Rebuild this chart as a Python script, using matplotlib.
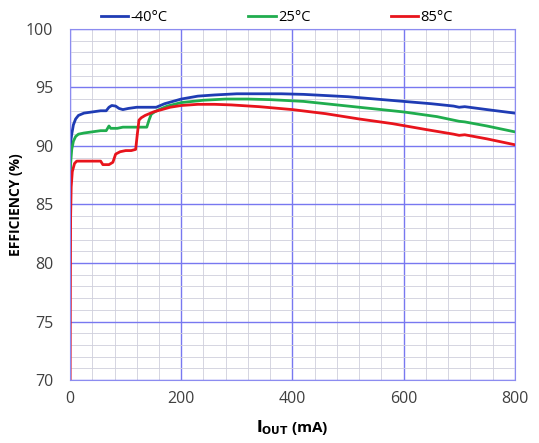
import matplotlib.pyplot as plt
from matplotlib.ticker import MultipleLocator, FixedLocator

plt.rcParams['font.family'] = ['Open Sans', 'DejaVu Sans']

# efficiency vs output current
x_m40 = [0, 1, 3, 6, 10, 15, 25, 40, 55, 65, 70, 75, 82, 88, 95, 105, 120, 140, 155, 170, 185, 200,
         230, 260, 300, 350, 380, 420, 460, 500, 550, 600, 650, 690, 700, 710, 750, 800]
y_m40 = [87.5, 90.3, 91.0, 91.8, 92.3, 92.6, 92.8, 92.9, 93.0, 93.0, 93.3, 93.45, 93.4, 93.2, 93.1, 93.2, 93.3, 93.3, 93.3, 93.6, 93.8, 94.0,
         94.25, 94.35, 94.45, 94.45, 94.45, 94.4, 94.3, 94.2, 94.0, 93.8, 93.6, 93.4, 93.3, 93.35, 93.1, 92.8]

x_25 = [0, 1, 3, 6, 10, 15, 25, 40, 55, 65, 70, 73, 78, 85, 95, 110, 125, 138, 142, 146, 152, 160, 175, 200,
        240, 280, 320, 360, 420, 480, 540, 600, 660, 690, 700, 710, 750, 800]
y_25 = [86.0, 88.5, 89.7, 90.4, 90.8, 91.0, 91.1, 91.2, 91.3, 91.3, 91.7, 91.5, 91.5, 91.5, 91.6, 91.6, 91.6, 91.6, 92.2, 92.7, 92.9, 93.1, 93.4, 93.7,
        93.9, 94.0, 94.0, 93.95, 93.8, 93.5, 93.2, 92.9, 92.5, 92.2, 92.1, 92.05, 91.7, 91.2]

x_85 = [0, 0.5, 1, 2, 4, 8, 12, 30, 45, 55, 59, 62, 70, 77, 82, 90, 100, 110, 118, 121, 124, 128, 135, 150, 165, 180, 200,
        230, 260, 290, 340, 400, 460, 520, 580, 640, 690, 700, 710, 750, 800]
y_85 = [70.0, 78.0, 84.0, 86.5, 87.8, 88.5, 88.7, 88.7, 88.7, 88.7, 88.4, 88.4, 88.4, 88.6, 89.3, 89.5, 89.6, 89.6, 89.7, 91.0, 92.2, 92.4, 92.6, 92.9, 93.1, 93.3, 93.45,
        93.55, 93.55, 93.5, 93.35, 93.1, 92.75, 92.3, 91.9, 91.4, 91.0, 90.9, 90.95, 90.6, 90.1]

fig = plt.figure(figsize=(5.39, 4.43), dpi=100)
ax = fig.add_axes([0.13, 0.142, 0.825, 0.793])

ax.plot(x_m40, y_m40, color="#1f3cb4", lw=2.0, label="-40°C")
ax.plot(x_25, y_25, color="#20ad4e", lw=2.0, label="25°C")
ax.plot(x_85, y_85, color="#e8141c", lw=2.0, label="85°C")

ax.set_xlim(0, 800)
ax.set_ylim(70, 100)
ax.xaxis.set_major_locator(MultipleLocator(200))
ax.xaxis.set_minor_locator(FixedLocator([v for v in range(40, 800, 40) if v % 200]))
ax.yaxis.set_major_locator(MultipleLocator(5))
ax.yaxis.set_minor_locator(FixedLocator([v for v in range(71, 100) if v % 5]))
ax.grid(which="minor", color="#cfcfdc", lw=0.6)
ax.grid(which="major", color="#7878f0", lw=1.0)
ax.set_axisbelow(True)
ax.tick_params(which="both", length=0, labelsize=11.5, colors="#404040")
ax.tick_params(axis="y", pad=12)
ax.tick_params(axis="x", pad=8)
for s in ax.spines.values():
    s.set_color("#8c8cf0")
    s.set_linewidth(0.8)

ax.set_xlabel(r"$\mathbf{I_{OUT}}$ (mA)", fontsize=11, fontweight="bold", labelpad=8)
ax.set_ylabel("EFFICIENCY (%)", fontsize=10, fontweight="bold", labelpad=2)

ax.legend(loc="lower center", bbox_to_anchor=(0.465, 0.995), ncol=3, frameon=False,
          fontsize=10.5, handlelength=1.9, handletextpad=0.15, columnspacing=5.5, borderaxespad=0)

fig.savefig("out.png", dpi=100)
